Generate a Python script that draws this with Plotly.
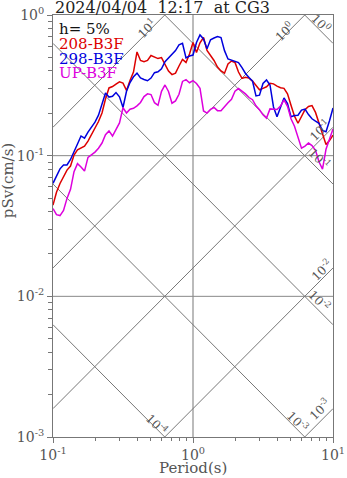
import math
import plotly.graph_objects as go

# Natural periods (s)
periods = [
    0.1, 0.1059, 0.1122, 0.1189, 0.1259, 0.1334, 0.1413, 0.1496, 0.1585, 0.1679,
    0.1778, 0.1884, 0.1995, 0.2113, 0.2239, 0.2371, 0.2512, 0.2661, 0.2818, 0.2985,
    0.3162, 0.3350, 0.3548, 0.3758, 0.3981, 0.4217, 0.4467, 0.4732, 0.5012, 0.5309,
    0.5623, 0.5957, 0.6310, 0.6683, 0.7079, 0.7499, 0.7943, 0.8414, 0.8913, 0.9441,
    1.0, 1.059, 1.122, 1.189, 1.259, 1.334, 1.413, 1.496, 1.585, 1.679,
    1.778, 1.884, 1.995, 2.113, 2.239, 2.371, 2.512, 2.661, 2.818, 2.985,
    3.162, 3.350, 3.548, 3.758, 3.981, 4.217, 4.467, 4.732, 5.012, 5.309,
    5.623, 5.957, 6.310, 6.683, 7.079, 7.499, 7.943, 8.414, 8.913, 9.441,
    10.0,
]

# Pseudo velocity response (cm/s), h = 5%
psv_208 = [
    0.0445, 0.0550, 0.0634, 0.0705, 0.0790, 0.0844, 0.101, 0.110, 0.114, 0.117,
    0.127, 0.142, 0.156, 0.175, 0.201, 0.253, 0.303, 0.310, 0.323, 0.335,
    0.328, 0.291, 0.342, 0.393, 0.546, 0.475, 0.466, 0.475, 0.515, 0.502,
    0.490, 0.498, 0.448, 0.400, 0.377, 0.386, 0.434, 0.483, 0.460, 0.528,
    0.637, 0.542, 0.635, 0.692, 0.559, 0.515, 0.475, 0.427, 0.400, 0.386,
    0.448, 0.471, 0.460, 0.393, 0.354, 0.361, 0.356, 0.339, 0.313, 0.294,
    0.301, 0.309, 0.327, 0.324, 0.312, 0.304, 0.301, 0.275, 0.228, 0.191,
    0.170, 0.189, 0.212, 0.224, 0.227, 0.203, 0.170, 0.142, 0.120, 0.128,
    0.140,
]
psv_298 = [
    0.0636, 0.0722, 0.0806, 0.0858, 0.0858, 0.0939, 0.108, 0.121, 0.138, 0.133,
    0.147, 0.160, 0.173, 0.194, 0.231, 0.279, 0.261, 0.264, 0.281, 0.262,
    0.220, 0.287, 0.331, 0.364, 0.386, 0.357, 0.348, 0.341, 0.356, 0.389,
    0.395, 0.415, 0.466, 0.495, 0.534, 0.559, 0.614, 0.629, 0.496, 0.511,
    0.519, 0.637, 0.721, 0.675, 0.575, 0.667, 0.686, 0.702, 0.691, 0.558,
    0.487, 0.479, 0.472, 0.459, 0.423, 0.384, 0.359, 0.339, 0.266, 0.269,
    0.326, 0.345, 0.318, 0.222, 0.189, 0.220, 0.257, 0.235, 0.189, 0.193,
    0.194, 0.211, 0.214, 0.196, 0.183, 0.176, 0.170, 0.151, 0.148, 0.177,
    0.218,
]
psv_up = [
    0.0421, 0.0381, 0.0375, 0.0408, 0.0497, 0.0576, 0.0769, 0.0878, 0.0830, 0.0777,
    0.0973, 0.101, 0.106, 0.113, 0.123, 0.141, 0.150, 0.138, 0.152, 0.171,
    0.219, 0.201, 0.214, 0.217, 0.226, 0.239, 0.263, 0.275, 0.272, 0.238,
    0.228, 0.287, 0.318, 0.286, 0.236, 0.245, 0.273, 0.337, 0.347, 0.330,
    0.342, 0.326, 0.301, 0.208, 0.201, 0.213, 0.220, 0.209, 0.209, 0.224,
    0.238, 0.252, 0.287, 0.300, 0.288, 0.275, 0.259, 0.250, 0.226, 0.212,
    0.195, 0.185, 0.215, 0.213, 0.213, 0.225, 0.249, 0.224, 0.183, 0.162,
    0.136, 0.113, 0.117, 0.123, 0.118, 0.109, 0.0904, 0.0803, 0.111, 0.130,
    0.155,
]

series_names = ["208-B3F", "298-B3F", "UP-B3F"]
series_values = [psv_208, psv_298, psv_up]
series_colors = ["#dd0000", "#0000dd", "#dd00dd"]

title_text = "2024/04/04\u00a0\u00a012:17\u00a0 at CG3"
damping_text = "h= 5%"

# Tripartite reference lines: constant Sa (cm/s^2) and constant Sd (cm)
sa_levels = [10, 1, 0.1, 0.01, 0.001]
sd_levels = [1, 0.1, 0.01, 0.001, 0.0001]
# label offsets (decades): distance back along the line, distance off the line
sa_label_offsets = [(0.11, 0.02), (0.13, 0.015), (0.058, 0.038), (0.05, 0.034), (0.05, 0.046)]
sd_label_offsets = [(0.114, 0.031), (0.141, 0.044), (0.136, 0.039), (0.082, 0.03), (0.074, 0.017)]

T_MIN, T_MAX = 0.1, 10.0
V_MIN, V_MAX = 0.001, 1.0

SERIF = "DejaVu Serif, serif"
GRID = "#777777"
TXT = "#555555"

fig = go.Figure()

# decade grid
fig.add_trace(go.Scatter(x=[1, 1], y=[V_MIN, V_MAX], mode="lines",
                         line=dict(color="#bbbbbb", width=2), hoverinfo="skip", showlegend=False))
for v in [0.1, 0.01]:
    fig.add_trace(go.Scatter(x=[T_MIN, T_MAX], y=[v, v], mode="lines",
                             line=dict(color="#888888", width=1), hoverinfo="skip", showlegend=False))


def log_label(v):
    e = int(round(math.log10(v)))
    return "10<sup>%d</sup>" % e


annotations = []
two_pi = 2 * math.pi
lx_min, lx_max = math.log10(T_MIN), math.log10(T_MAX)
ly_min, ly_max = math.log10(V_MIN), math.log10(V_MAX)

for sa, (a, b) in zip(sa_levels, sa_label_offsets):
    ts = [T_MIN, T_MAX]
    fig.add_trace(go.Scatter(x=ts, y=[sa * t / two_pi for t in ts], mode="lines",
                             line=dict(color=GRID, width=1), hoverinfo="skip", showlegend=False))
    c = math.log10(sa / two_pi)  # log Sv = c + log T
    if c + lx_max > ly_max:
        ex, ey = ly_max - c, ly_max
    else:
        ex, ey = lx_max, c + lx_max
    annotations.append(dict(x=ex - a - b, y=ey - a + b, xref="x", yref="y",
                             text=log_label(sa), showarrow=False, textangle=-45,
                             font=dict(family=SERIF, size=12, color=TXT)))

for sd, (a, b) in zip(sd_levels, sd_label_offsets):
    ts = [T_MIN, T_MAX]
    fig.add_trace(go.Scatter(x=ts, y=[two_pi * sd / t for t in ts], mode="lines",
                             line=dict(color=GRID, width=1), hoverinfo="skip", showlegend=False))
    c = math.log10(two_pi * sd)  # log Sv = c - log T
    if c - lx_max < ly_min:
        ex, ey = c - ly_min, ly_min
    else:
        ex, ey = lx_max, c - lx_max
    annotations.append(dict(x=ex - a + b, y=ey + a + b, xref="x", yref="y",
                             text=log_label(sd), showarrow=False, textangle=45,
                             font=dict(family=SERIF, size=12, color=TXT)))

# response spectra
for name, vals, col in zip(series_names, series_values, series_colors):
    fig.add_trace(go.Scatter(x=periods, y=vals, mode="lines", name=name,
                             line=dict(color=col, width=1.5), showlegend=False))

# in-plot labels
label_rows = [(damping_text, "#111111")] + list(zip(series_names, series_colors))
row_y = [0.9668, 0.9313, 0.8957, 0.8626]
for (txt, col), yy in zip(label_rows, row_y):
    annotations.append(dict(x=0.016, y=yy, xref="paper", yref="paper", text=txt,
                             showarrow=False, xanchor="left", yanchor="middle",
                             font=dict(family=SERIF, size=15, color=col)))

annotations.append(dict(x=0.0, y=1.018, xref="paper", yref="paper", text=title_text,
                        showarrow=False, xanchor="left", yanchor="middle",
                        font=dict(family=SERIF, size=16, color="#222222")))
annotations.append(dict(x=0.5, y=-0.073, xref="paper", yref="paper", text="Period(s)",
                        showarrow=False, xanchor="center", yanchor="middle",
                        font=dict(family=SERIF, size=15, color=TXT)))
annotations.append(dict(x=-0.163, y=0.607, xref="paper", yref="paper", text="pSv(cm/s)",
                        showarrow=False, textangle=-90, xanchor="center", yanchor="middle",
                        font=dict(family=SERIF, size=15, color=TXT)))

x_major = [0.1, 1, 10]
y_major = [0.001, 0.01, 0.1, 1]
x_minor = [m * d for d in [0.1, 1] for m in range(2, 10)]
y_minor = [m * d for d in [0.001, 0.01, 0.1] for m in range(2, 10)]

axis_common = dict(type="log", showgrid=False, zeroline=False, showline=True,
                   linecolor="#777777", linewidth=1, mirror=True, automargin=False,
                   ticks="outside", ticklen=5, tickwidth=1, tickcolor="#777777",
                   tickfont=dict(family=SERIF, size=14, color=TXT))

fig.update_layout(
    width=347, height=478,
    margin=dict(l=53, r=14, t=15, b=41),
    paper_bgcolor="white", plot_bgcolor="white",
    showlegend=False,
    annotations=annotations,
    xaxis=dict(range=[lx_min, lx_max], tickvals=x_major,
               ticktext=[log_label(v) for v in x_major],
               minor=dict(tickvals=x_minor, ticks="outside", ticklen=3,
                          tickcolor="#777777", showgrid=False),
               **axis_common),
    yaxis=dict(range=[ly_min, ly_max], tickvals=y_major,
               ticktext=[log_label(v) for v in y_major],
               minor=dict(tickvals=y_minor, ticks="outside", ticklen=4,
                          tickcolor="#777777", showgrid=False),
               **axis_common),
)

fig.write_html("out.html")
